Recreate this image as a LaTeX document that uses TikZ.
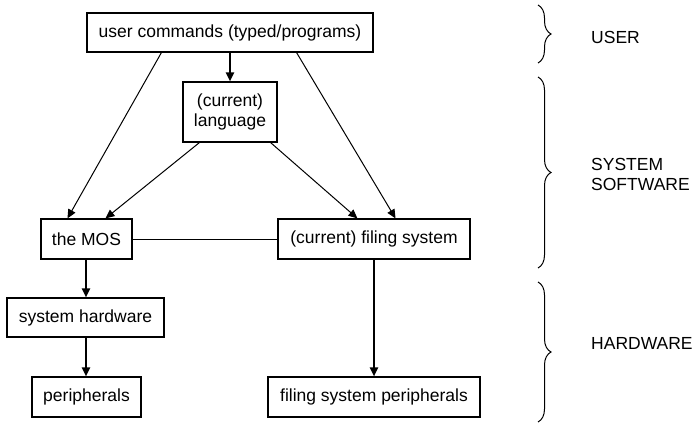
\documentclass[tikz,border=0pt]{standalone}
\usepackage{fontspec}
\setmainfont{Liberation Sans}
\usetikzlibrary{arrows.meta,decorations.pathreplacing}
\begin{document}
\begin{tikzpicture}[x=1pt,y=-1pt,
  box/.style={draw,line width=1.1pt,inner sep=0pt,align=center,font=\fontsize{17.5}{20}\selectfont},
  arr/.style={line width=2pt,-{Triangle[length=9pt,width=8pt]}},
  thinline/.style={line width=1pt},
  thinarr/.style={line width=1pt,-{Triangle[length=9pt,width=8pt]}},
  br/.style={line width=1pt,decorate,decoration={brace,amplitude=13pt,aspect=0.5}},
  lab/.style={anchor=west,align=left,inner sep=0pt,font=\fontsize{17.5}{20}\selectfont}]
\useasboundingbox (0,0) rectangle (695,425);
\node[box,minimum width=286pt,minimum height=39pt] (user) at (230,32.5) {user commands (typed/programs)};
\node[box,minimum width=94pt,minimum height=60pt] (lang) at (230,112) {(current)\\language};
\node[box,minimum width=91pt,minimum height=40pt] (mos) at (86.5,239) {the MOS};
\node[box,minimum width=192pt,minimum height=40pt] (fs) at (374,239) {(current) filing system};
\node[box,minimum width=157pt,minimum height=39pt] (hw) at (85.5,317.5) {system hardware};
\node[box,minimum width=109pt,minimum height=40pt] (per) at (86.5,397) {peripherals};
\node[box,minimum width=212pt,minimum height=40pt] (fsp) at (374,397) {filing system peripherals};

\draw[arr] (user.south) -- (lang.north);
\draw[thinarr] ([xshift=75pt]user.south west) -- ([xshift=27pt]mos.north west);
\draw[thinarr] ([xshift=-77pt]user.south east) -- ([xshift=-75pt]fs.north east);
\draw[thinarr] ([xshift=17pt]lang.south west) -- ([xshift=65pt]mos.north west);
\draw[thinarr] ([xshift=-7pt]lang.south east) -- ([xshift=80pt]fs.north west);
\draw[thinline] (mos.east) -- (fs.west);
\draw[arr] ([xshift=-0.5pt]mos.south) -- ([xshift=0.5pt]hw.north);
\draw[arr] ([xshift=0.5pt]hw.south) -- ([xshift=-0.5pt]per.north);
\draw[arr] (fs.south) -- (fsp.north);

\coordinate (b1t) at (538,5);
\coordinate (b1b) at (538,63);
\coordinate (b2t) at (538,77);
\coordinate (b2b) at (538,268);
\coordinate (b3t) at (538,282);
\coordinate (b3b) at (538,422);
\draw[br] (b1t) -- (b1b);
\draw[br] (b2t) -- (b2b);
\draw[br] (b3t) -- (b3b);
\node[lab] (l1) at (591,37) {USER};
\node[lab] (l2) at (591,174) {SYSTEM\\SOFTWARE};
\node[lab] (l3) at (591,343) {HARDWARE};
\end{tikzpicture}
\end{document}
